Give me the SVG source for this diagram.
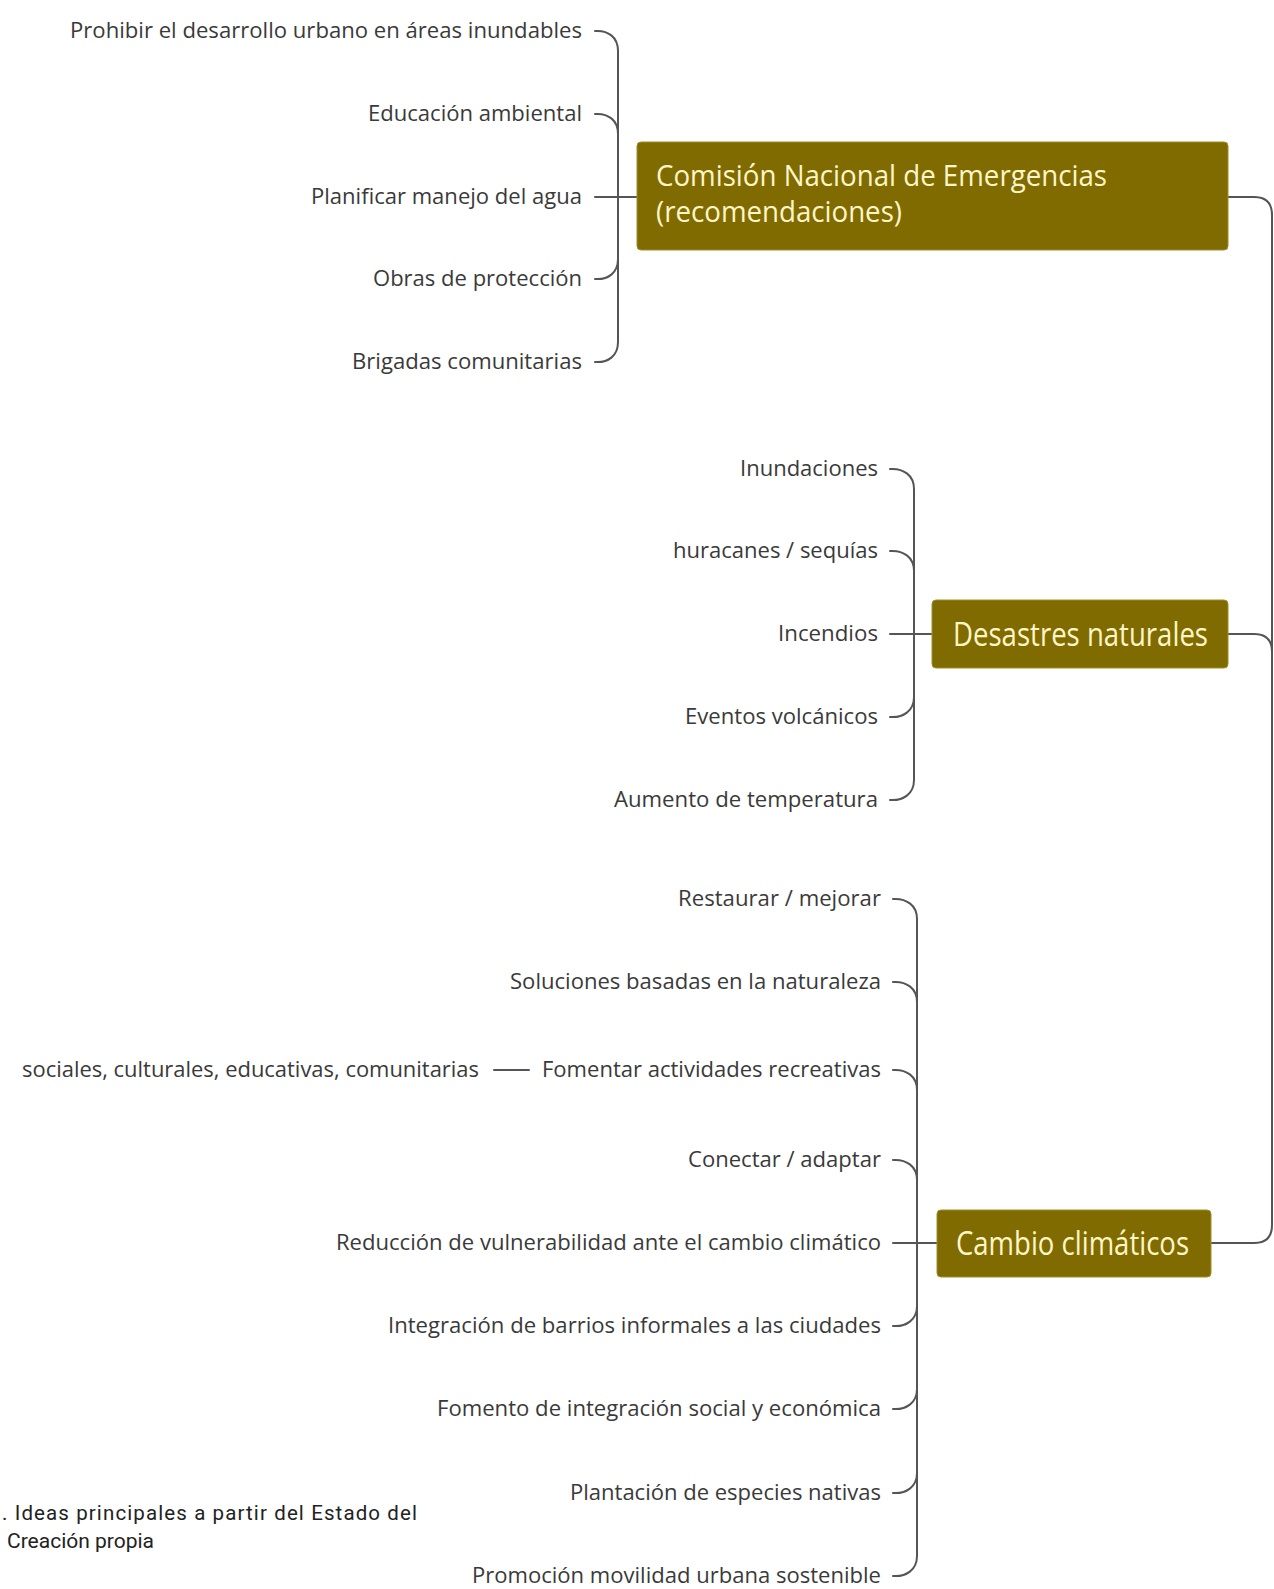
<svg xmlns="http://www.w3.org/2000/svg" width="1274" height="1589" viewBox="0 0 1274 1589">
<style>
.lbl{font-family:"Open Sans","DejaVu Sans",sans-serif;font-size:21px;fill:#3a3a3a;text-anchor:end}
.box{fill:#806b00;stroke:#a08e2a;stroke-width:1}
.bt{font-family:"Open Sans","DejaVu Sans",sans-serif;fill:#fff6c8}
.cap{font-family:Roboto,"Liberation Sans",sans-serif;font-size:20.5px;fill:#222}
.con{fill:none;stroke:#555;stroke-width:2;stroke-linecap:round}
</style>
<rect width="1274" height="1589" fill="#fff"/>
<g id="connectors">
  <path class="con" d="M595 31 C608 30 618 37 618 51 V342 C618 356 608 363 595 362"/>
  <path class="con" d="M595 114 C608 113 618 120 618 134"/>
  <path class="con" d="M595 279 C608 280 618 273 618 259"/>
  <path class="con" d="M595 197 H637"/>
  <path class="con" d="M890 469 C903 468 914 475 914 489 V780 C914 794 903 801 890 800"/>
  <path class="con" d="M890 551 C903 550 914 557 914 571"/>
  <path class="con" d="M890 717 C903 718 914 711 914 697"/>
  <path class="con" d="M890 634 H932"/>
  <path class="con" d="M893 899 C906 898 917 905 917 919 V1556 C917 1570 906 1577 893 1576"/>
  <path class="con" d="M893 982 C906 981 917 988 917 1002"/>
  <path class="con" d="M893 1070 C906 1069 917 1076 917 1090"/>
  <path class="con" d="M893 1160 C906 1159 917 1166 917 1180"/>
  <path class="con" d="M893 1326 C906 1327 917 1320 917 1306"/>
  <path class="con" d="M893 1409 C906 1410 917 1403 917 1389"/>
  <path class="con" d="M893 1493 C906 1494 917 1487 917 1473"/>
  <path class="con" d="M893 1243 H937"/>
  <path class="con" d="M494 1070 H529"/>
  <path class="con" d="M1228 197 H1254 Q1272 197 1272 215 V1225 Q1272 1243 1254 1243 H1211"/>
  <path class="con" d="M1228 634 H1254 Q1272 634 1272 652"/>
</g>
<g id="node-comision">
  <rect class="box" x="637" y="142" width="591" height="108" rx="4"/>
  <text class="bt" x="656" y="186" font-size="29" textLength="451" lengthAdjust="spacingAndGlyphs">Comisión Nacional de Emergencias</text>
  <text class="bt" x="656" y="222" font-size="29" textLength="246" lengthAdjust="spacingAndGlyphs">(recomendaciones)</text>
</g>
<g id="node-desastres">
  <rect class="box" x="932" y="600" width="296" height="68" rx="4"/>
  <text class="bt" x="953" y="646" font-size="33" textLength="255" lengthAdjust="spacingAndGlyphs">Desastres naturales</text>
</g>
<g id="node-cambio">
  <rect class="box" x="937" y="1210" width="274" height="67" rx="4"/>
  <text class="bt" x="956" y="1255" font-size="33" textLength="233" lengthAdjust="spacingAndGlyphs">Cambio climáticos</text>
</g>
<g id="labels-comision">
  <text class="lbl" x="582" y="38" textLength="512" lengthAdjust="spacingAndGlyphs">Prohibir el desarrollo urbano en áreas inundables</text>
  <text class="lbl" x="582" y="121" textLength="214" lengthAdjust="spacingAndGlyphs">Educación ambiental</text>
  <text class="lbl" x="582" y="204" textLength="271" lengthAdjust="spacingAndGlyphs">Planificar manejo del agua</text>
  <text class="lbl" x="582" y="286" textLength="209" lengthAdjust="spacingAndGlyphs">Obras de protección</text>
  <text class="lbl" x="582" y="369" textLength="230" lengthAdjust="spacingAndGlyphs">Brigadas comunitarias</text>
</g>
<g id="labels-desastres">
  <text class="lbl" x="878" y="476" textLength="138" lengthAdjust="spacingAndGlyphs">Inundaciones</text>
  <text class="lbl" x="878" y="558" textLength="205" lengthAdjust="spacingAndGlyphs">huracanes / sequías</text>
  <text class="lbl" x="878" y="641" textLength="100" lengthAdjust="spacingAndGlyphs">Incendios</text>
  <text class="lbl" x="878" y="724" textLength="193" lengthAdjust="spacingAndGlyphs">Eventos volcánicos</text>
  <text class="lbl" x="878" y="807" textLength="264" lengthAdjust="spacingAndGlyphs">Aumento de temperatura</text>
</g>
<g id="labels-cambio">
  <text class="lbl" x="881" y="906" textLength="203" lengthAdjust="spacingAndGlyphs">Restaurar / mejorar</text>
  <text class="lbl" x="881" y="989" textLength="371" lengthAdjust="spacingAndGlyphs">Soluciones basadas en la naturaleza</text>
  <text class="lbl" x="881" y="1077" textLength="339" lengthAdjust="spacingAndGlyphs">Fomentar actividades recreativas</text>
  <text class="lbl" x="479" y="1077" textLength="457" lengthAdjust="spacingAndGlyphs">sociales, culturales, educativas, comunitarias</text>
  <text class="lbl" x="881" y="1167" textLength="193" lengthAdjust="spacingAndGlyphs">Conectar / adaptar</text>
  <text class="lbl" x="881" y="1250" textLength="545" lengthAdjust="spacingAndGlyphs">Reducción de vulnerabilidad ante el cambio climático</text>
  <text class="lbl" x="881" y="1333" textLength="493" lengthAdjust="spacingAndGlyphs">Integración de barrios informales a las ciudades</text>
  <text class="lbl" x="881" y="1416" textLength="444" lengthAdjust="spacingAndGlyphs">Fomento de integración social y económica</text>
  <text class="lbl" x="881" y="1500" textLength="311" lengthAdjust="spacingAndGlyphs">Plantación de especies nativas</text>
  <text class="lbl" x="881" y="1583" textLength="409" lengthAdjust="spacingAndGlyphs">Promoción movilidad urbana sostenible</text>
</g>
<g id="caption">
  <text class="cap" x="2" y="1520" textLength="415" lengthAdjust="spacing">. Ideas principales a partir del Estado del</text>
  <text class="cap" x="7" y="1548" textLength="147" lengthAdjust="spacingAndGlyphs">Creación propia</text>
</g>
</svg>
